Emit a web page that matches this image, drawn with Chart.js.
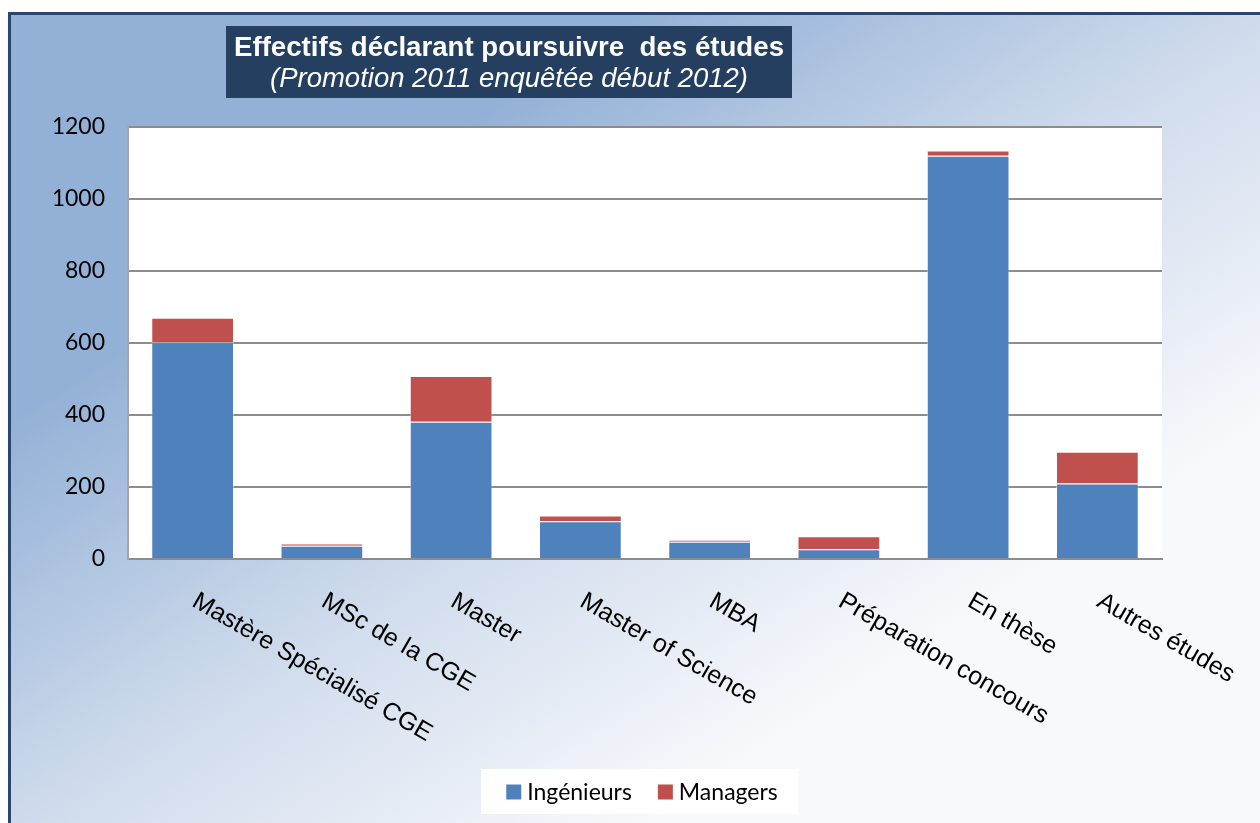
<!DOCTYPE html>
<html>
<head>
<meta charset="utf-8">
<script src="https://cdn.jsdelivr.net/npm/chart.js@4.4.1/dist/chart.umd.min.js"></script>
<style>
  html, body { margin: 0; padding: 0; background: #ffffff; }
  #wrap { width: 1260px; height: 823px; position: relative; }
</style>
</head>
<body>
<div id="wrap"><canvas id="c" width="1260" height="823"></canvas></div>
<script>
// ---- data ----
const categories = [
  "Mastère Spécialisé CGE",
  "MSc de la CGE",
  "Master",
  "Master of Science",
  "MBA",
  "Préparation concours",
  "En thèse",
  "Autres études"
];
const ingenieurs = [602, 37, 381, 105, 48, 27, 1120, 210];
const managers   = [68, 6, 127, 16, 5, 36, 15, 88];
const seriesNames = ["Ingénieurs", "Managers"];
const yMin = 0, yMax = 1200, yStep = 200;
const titleLine1 = "Effectifs déclarant poursuivre  des études";
const titleLine2 = "(Promotion 2011 enquêtée début 2012)";

const W = 1260, H = 823;

const decorPlugin = {
  id: 'decor',
  beforeDraw(chart) {
    const ctx = chart.ctx;
    ctx.save();
    ctx.fillStyle = '#ffffff';
    ctx.fillRect(0, 0, W, H);
    // frame with diagonal gradient
    const fx = 8, fy = 12, fw = W + 10 - fx, fh = H + 10 - fy;
    const cx = fx + fw / 2, cy = fy + fh / 2;
    const n = Math.hypot(fw, fh);
    const ux = fh / n, uy = fw / n;
    const hl = (fw * fh) / n;
    const g = ctx.createLinearGradient(cx - ux * hl / 2, cy - uy * hl / 2, cx + ux * hl / 2, cy + uy * hl / 2);
    g.addColorStop(0, '#93b1d6');
    g.addColorStop(0.5, '#cfdbec');
    g.addColorStop(1, '#f8f9fc');
    ctx.fillStyle = g;
    ctx.fillRect(fx, fy, fw, fh);
    ctx.strokeStyle = '#2b466e';
    ctx.lineWidth = 3;
    ctx.beginPath();
    ctx.moveTo(fx + 1.5, H + 5);
    ctx.lineTo(fx + 1.5, fy + 1.5);
    ctx.lineTo(W + 5, fy + 1.5);
    ctx.stroke();
    // plot area white
    const a = chart.chartArea;
    ctx.fillStyle = '#ffffff';
    ctx.fillRect(a.left, a.top, a.right - a.left, a.bottom - a.top);
    // title box
    ctx.fillStyle = '#243f60';
    ctx.fillRect(226, 26, 566, 72);
    ctx.fillStyle = '#ffffff';
    ctx.textAlign = 'center';
    ctx.textBaseline = 'alphabetic';
    ctx.font = 'bold 27px "Liberation Sans Narrow", "Liberation Sans", Arial, sans-serif';
    let w1 = ctx.measureText(titleLine1).width;
    ctx.save();
    ctx.translate(509, 56);
    ctx.scale(550 / w1, 1);
    ctx.fillText(titleLine1, 0, 0);
    ctx.restore();
    ctx.font = 'italic 27px "Liberation Sans Narrow", "Liberation Sans", Arial, sans-serif';
    let w2 = ctx.measureText(titleLine2).width;
    ctx.save();
    ctx.translate(509, 87);
    ctx.scale(478 / w2, 1);
    ctx.fillText(titleLine2, 0, 0);
    ctx.restore();
    ctx.restore();
  },
  afterDraw(chart) {
    const ctx = chart.ctx;
    const xs = chart.scales.x;
    const a = chart.chartArea;
    ctx.save();
    // rotated category labels (start at the tick, running down-right)
    const fs = 25, ang = 30 * Math.PI / 180, cap = 0.716 * fs;
    ctx.fillStyle = '#000000';
    ctx.font = fs + 'px "Liberation Sans", Arial, sans-serif';
    ctx.textAlign = 'left';
    ctx.textBaseline = 'alphabetic';
    categories.forEach((lab, i) => {
      const x = xs.getPixelForValue(i);
      const tx = x + 7 - cap * Math.sin(ang);
      const ty = a.bottom + 31 + cap * Math.cos(ang);
      ctx.save();
      ctx.translate(tx, ty);
      ctx.rotate(ang);
      ctx.fillText(lab, 0, 0);
      ctx.restore();
    });
    // legend
    ctx.font = '23px Lato, "Open Sans", sans-serif';
    const sq = 15, gapT = 6, gapItem = 26;
    const items = chart.data.datasets.map(d => ({ label: d.label, color: d.backgroundColor, w: ctx.measureText(d.label).width }));
    let total = 0;
    items.forEach((it, k) => { total += sq + gapT + it.w + (k < items.length - 1 ? gapItem : 0); });
    const lcx = 642, lcy = 792;
    ctx.fillStyle = '#ffffff';
    ctx.fillRect(481, 769, 317, 45);
    let x = lcx - total / 2;
    ctx.textBaseline = 'middle';
    items.forEach(it => {
      ctx.fillStyle = it.color;
      ctx.fillRect(x, lcy - sq / 2, sq, sq);
      x += sq + gapT;
      ctx.fillStyle = '#000000';
      ctx.fillText(it.label, x, lcy + 1);
      x += it.w + gapItem;
    });
    ctx.restore();
  }
};

new Chart(document.getElementById('c'), {
  type: 'bar',
  data: {
    labels: categories,
    datasets: [
      { label: seriesNames[0], data: ingenieurs, backgroundColor: '#4f81bd', borderColor: 'rgba(255,255,255,0.45)', borderWidth: 1 },
      { label: seriesNames[1], data: managers, backgroundColor: '#c0504d', borderColor: 'rgba(255,255,255,0.45)', borderWidth: 1 }
    ]
  },
  options: {
    responsive: false,
    animation: false,
    devicePixelRatio: 1,
    layout: { padding: { left: 0, right: 98, top: 127, bottom: 0 } },
    plugins: { legend: { display: false }, tooltip: { enabled: false }, title: { display: false } },
    datasets: { bar: { barPercentage: 0.64, categoryPercentage: 1.0 } },
    scales: {
      x: {
        stacked: true,
        grid: { display: false, drawTicks: false },
        border: { display: true, color: '#8c8c8c', width: 2 },
        ticks: { display: false },
        afterFit(s) { s.height = 823 - 559; }
      },
      y: {
        stacked: true,
        min: yMin, max: yMax,
        ticks: {
          stepSize: yStep, color: '#000000', padding: 23,
          font: { family: 'Lato, "Open Sans", sans-serif', size: 23 },
          callback: (v) => String(v)
        },
        grid: { color: '#8c8c8c', lineWidth: 2, drawTicks: false },
        border: { display: true, color: '#a6a6a6', width: 2 },
        afterFit(s) { s.width = 128; }
      }
    }
  },
  plugins: [decorPlugin]
});
</script>
</body>
</html>
